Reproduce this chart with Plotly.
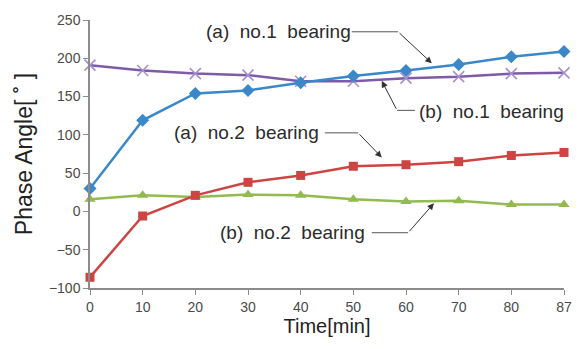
import plotly.graph_objects as go

time_labels = ["0", "10", "20", "30", "40", "50", "60", "70", "80", "87"]
a_no1 = [30, 119, 154, 158, 168, 177, 184, 192, 202, 209]
b_no1 = [191, 184, 180, 178, 170, 170, 174, 176, 180, 181]
a_no2 = [-86, -6, 21, 38, 47, 59, 61, 65, 73, 77]
b_no2 = [16, 21, 19, 22, 21, 16, 13, 14, 9, 9]

xs = list(range(len(time_labels)))
FONT = "Liberation Sans, Arial, sans-serif"

fig = go.Figure()
fig.add_trace(go.Scatter(x=xs, y=b_no1, mode="lines+markers", cliponaxis=False,
                         line=dict(color="#7d5ba6", width=2.5),
                         marker=dict(symbol="x-thin", size=11, line=dict(color="#a88fd2", width=1.6), color="#a88fd2")))
fig.add_trace(go.Scatter(x=xs, y=a_no1, mode="lines+markers", cliponaxis=False,
                         line=dict(color="#3a88c9", width=2.5),
                         marker=dict(symbol="diamond", size=10, color="#3a88c9")))
fig.add_trace(go.Scatter(x=xs, y=b_no2, mode="lines+markers", cliponaxis=False,
                         line=dict(color="#92bb4f", width=2.5),
                         marker=dict(symbol="triangle-up", size=10, color="#92bb4f")))
fig.add_trace(go.Scatter(x=xs, y=a_no2, mode="lines+markers", cliponaxis=False,
                         line=dict(color="#cc4543", width=2.5),
                         marker=dict(symbol="square", size=9, color="#cc4543")))

NB = "\u00a0"
labels = [
    # text, tx, ty, line x0, x1, y, arrow from (x,y) to (x,y)
    (f"(a){NB}{NB}no.1{NB}{NB}bearing", 3.57, 234.6, 4.97, 5.85, 234.6, 5.85, 234.6, 6.49, 193.6),
    (f"(b){NB}{NB}no.1{NB}{NB}bearing", 7.63, 130.8, 5.83, 6.17, 132.0, 5.83, 132.0, 5.54, 170.5),
    (f"(a){NB}{NB}no.2{NB}{NB}bearing", 2.98, 102.6, 4.46, 5.09, 102.6, 5.09, 102.6, 5.54, 70.5),
    (f"(b){NB}{NB}no.2{NB}{NB}bearing", 3.84, -27.0, 5.35, 6.04, -27.8, 6.04, -27.8, 6.53, 10.6),
]
for text, tx, ty, lx0, lx1, ly, ax, ay, hx, hy in labels:
    fig.add_annotation(x=tx, y=ty, text=text, showarrow=False,
                       font=dict(family=FONT, size=19, color="#2b2b2b"))
    fig.add_shape(type="line", x0=lx0, x1=lx1, y0=ly, y1=ly,
                  line=dict(color="#555555", width=1))
    fig.add_annotation(x=hx, y=hy, ax=ax, ay=ay, axref="x", ayref="y", text="",
                       showarrow=True, arrowhead=2, arrowsize=1.3, arrowwidth=1,
                       arrowcolor="#333333")

axis_common = dict(showgrid=False, zeroline=False, showline=True, linecolor="#8c8c8c",
                   linewidth=1.5, ticks="outside", ticklen=5, tickcolor="#8c8c8c",
                   tickfont=dict(family=FONT, size=14, color="#4a4a4a"))

fig.update_layout(
    width=584, height=349,
    margin=dict(l=90, r=20, t=15, b=61),
    paper_bgcolor="white", plot_bgcolor="white",
    showlegend=False,
    xaxis=dict(range=[0, 9], tickvals=xs, ticktext=time_labels,
               title=dict(text="Time[min]", font=dict(family=FONT, size=20, color="#222"), standoff=4),
               **axis_common),
    yaxis=dict(range=[-100, 250], tickvals=[-100, -50, 0, 50, 100, 150, 200, 250],
               title=dict(text="Phase Angle[ ˚ ]", font=dict(family=FONT, size=23, color="#222"), standoff=10),
               **axis_common),
)

fig.write_html("out.html")
